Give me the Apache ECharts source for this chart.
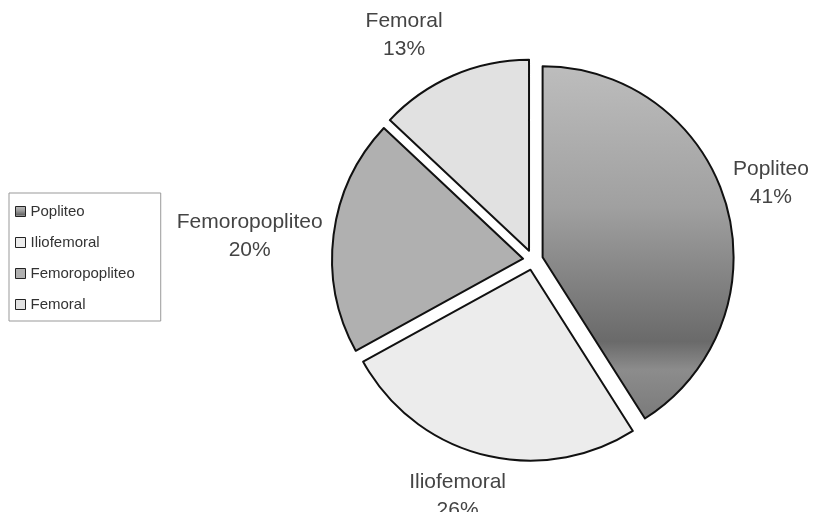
<!DOCTYPE html>
<html>
<head>
<meta charset="utf-8">
<script src="https://cdn.jsdelivr.net/npm/echarts@6/dist/echarts.min.js"></script>
<style>
  html, body { margin: 0; padding: 0; background: #fff; }
  #pie { width: 817px; height: 512px; }
</style>
</head>
<body>
<div id="pie"></div>
<script>
  // datos
  const categories = ['Popliteo', 'Iliofemoral', 'Femoropopliteo', 'Femoral'];
  const values = [41, 26, 20, 13];
  const fills = [
    { type: 'linear', x: 0, y: 0, x2: 0, y2: 1, colorStops: [
      { offset: 0, color: '#bdbdbd' },
      { offset: 0.4, color: '#a0a0a0' },
      { offset: 0.78, color: '#6a6a6a' },
      { offset: 0.86, color: '#8c8c8c' },
      { offset: 1, color: '#7a7a7a' }
    ]},
    '#ececec',
    '#b0b0b0',
    '#e1e1e1'
  ];
  const lineLen = [2, 20, 6, 14];
  const shift = [[0, -20], [33, 22], [0, 2], [0, -27]];

  const chart = echarts.init(document.getElementById('pie'));
  const option = {
    animation: false,
    legend: {
      orient: 'vertical',
      left: 9,
      top: 193,
      padding: [11, 26, 9, 6],
      itemGap: 16,
      itemWidth: 10,
      itemHeight: 10,
      icon: 'rect',
      borderColor: '#999',
      borderWidth: 1,
      selectedMode: false,
      textStyle: { fontSize: 15, color: '#333', fontFamily: 'Liberation Sans, Arial, sans-serif' },
      itemStyle: { borderColor: '#222', borderWidth: 1 },
      data: categories
    },
    series: [{
      type: 'pie',
      center: [533, 260],
      radius: 191,
      startAngle: 90,
      clockwise: true,
      selectedMode: 'multiple',
      selectedOffset: 10,
      avoidLabelOverlap: false,
      itemStyle: { borderColor: '#111', borderWidth: 2 },
      emphasis: { disabled: true },
      label: {
        position: 'outside',
        distanceToLabelLine: 5,
        formatter: '{n|{b}}\n{p|{d}%}',
        color: '#444',
        fontFamily: 'Liberation Sans, Arial, sans-serif',
        rich: {
          n: { align: 'center', fontSize: 21, lineHeight: 28, color: '#444' },
          p: { align: 'center', fontSize: 21, lineHeight: 28, color: '#444' }
        }
      },
      labelLine: { show: false, length: 10, length2: 0 },
      labelLayout: function (params) {
        const s = shift[params.dataIndex];
        return { dx: s[0], dy: s[1] };
      },
      data: categories.map(function (name, i) {
        return {
          name: name,
          value: values[i],
          selected: true,
          itemStyle: { color: fills[i] },
          labelLine: { show: false, length: lineLen[i], length2: 0 }
        };
      })
    }]
  };
  chart.setOption(option);
</script>
</body>
</html>
